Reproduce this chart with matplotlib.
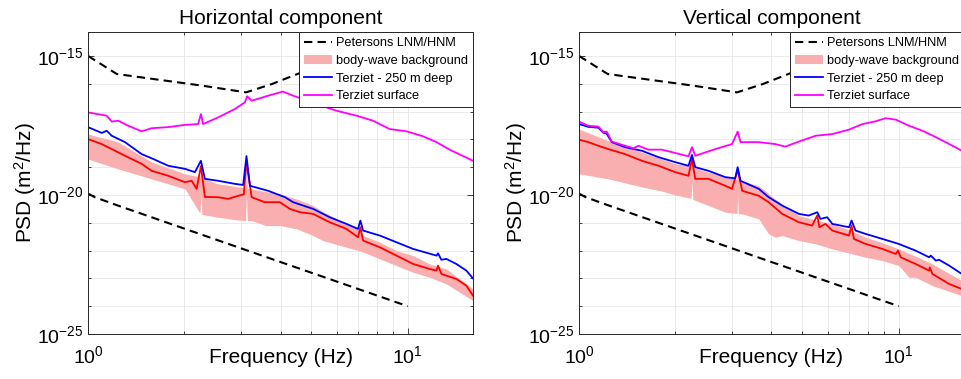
import numpy as np
import matplotlib
matplotlib.use('Agg')
import matplotlib.pyplot as plt
from matplotlib.ticker import FixedLocator, NullFormatter, LogLocator

plt.rcParams['font.family'] = 'Liberation Sans'
plt.rcParams['mathtext.fontset'] = 'custom'
plt.rcParams['mathtext.rm'] = 'Liberation Sans'
plt.rcParams['mathtext.it'] = 'Liberation Sans:italic'

# Peterson noise models (log10 of PSD, m^2/Hz), same in both panels
hnm_freq = [1.0, 1.23, 2.28, 3.12, 3.76, 4.38, 6.0, 10.0]
hnm_log = [-15.0, -15.65, -16.07, -16.31, -16.01, -15.71, -15.1, -14.3]
lnm_freq = [1.0, 1.05, 1.24, 10.0]
lnm_log = [-19.95, -20.08, -20.38, -24.0]

# Horizontal component
h_surf_freq = [1.0, 1.144, 1.186, 1.244, 1.336, 1.471, 1.581, 1.782, 2.01, 2.21, 2.255, 2.29,
               2.554, 2.879, 3.095, 3.145, 3.25, 3.66, 4.07, 4.38, 5.19, 5.99, 6.92, 7.79,
               8.78, 9.91, 11.16, 12.3, 13.52, 16.0]
h_surf_log = [-17.03, -17.15, -17.36, -17.33, -17.51, -17.71, -17.6, -17.56, -17.48, -17.45, -17.09, -17.45,
              -17.21, -16.91, -16.67, -16.45, -16.61, -16.43, -16.28, -16.43, -16.73, -16.97, -17.15, -17.33,
              -17.63, -17.71, -17.89, -18.1, -18.37, -18.77]

h_deep_freq = [1.0, 1.104, 1.144, 1.186, 1.305, 1.471, 1.581, 1.782, 2.01, 2.159, 2.255, 2.32,
               2.554, 2.879, 3.057, 3.13, 3.21, 3.66, 4.13, 4.38, 5.06, 5.7, 6.43, 6.99,
               7.11, 7.25, 8.18, 9.22, 10.39, 12.3, 12.44, 12.74, 13.21, 14.19, 15.25, 16.0]
h_deep_log = [-17.56, -17.77, -17.69, -17.87, -18.1, -18.53, -18.68, -18.95, -19.06, -19.18, -18.77, -19.42,
              -19.49, -19.6, -19.64, -18.6, -19.67, -19.85, -20.08, -20.26, -20.5, -20.8, -21.04, -21.22,
              -20.92, -21.28, -21.46, -21.7, -21.94, -22.18, -22.1, -22.33, -22.3, -22.48, -22.72, -23.0]

h_med_freq = [1.0, 1.104, 1.186, 1.305, 1.471, 1.581, 1.782, 2.01, 2.109, 2.186, 2.255, 2.32,
              2.554, 2.744, 2.95, 3.07, 3.13, 3.25, 3.57, 3.98, 4.28, 4.6, 5.06, 5.43,
              5.7, 6.43, 6.99, 7.11, 7.25, 8.18, 9.22, 9.91, 10.39, 11.71, 12.3, 12.44,
              12.74, 14.19, 15.25, 16.0]
h_med_log = [-17.99, -18.17, -18.35, -18.59, -18.88, -19.13, -19.31, -19.54, -19.49, -19.78, -18.96, -20.07,
             -20.08, -20.14, -20.03, -19.98, -18.81, -20.08, -20.26, -20.26, -20.5, -20.62, -20.68, -20.86,
             -20.98, -21.22, -21.52, -21.16, -21.64, -21.88, -22.18, -22.36, -22.48, -22.66, -22.72, -22.54,
             -22.84, -23.02, -23.26, -23.62]

h_band_freq = [1.0, 1.24, 1.58, 2.01, 2.24, 2.255, 2.27, 2.55, 2.95, 3.11, 3.13, 3.15, 3.25, 3.6,
               3.98, 4.5, 5.06, 5.43, 6.43, 7.0, 7.25, 8.18, 9.22, 10.39, 11.71, 13.21, 16.0]
h_band_hi = [-17.81, -18.09, -18.81, -19.24, -19.35, -19.0, -19.38, -19.6, -19.71, -19.74, -18.75, -19.75,
             -19.78, -19.88, -19.96, -20.15, -20.38, -20.6, -21.04, -21.2, -21.46, -21.7, -22.0, -22.18,
             -22.48, -22.66, -23.38]
h_band_lo = [-18.71, -19.06, -19.42, -19.78, -20.66, -19.9, -20.7, -20.8, -20.9, -20.92, -20.0, -20.92,
             -20.92, -21.1, -21.1, -21.22, -21.46, -21.64, -21.88, -22.0, -22.05, -22.3, -22.54, -22.78,
             -22.96, -23.2, -23.8]

# Vertical component
v_surf_freq = [1.0, 1.069, 1.149, 1.191, 1.221, 1.266, 1.393, 1.48, 1.534, 1.648, 1.816, 2.0,
               2.2, 2.256, 2.31, 2.67, 3.01, 3.135, 3.2, 3.65, 4.11, 4.42, 4.87, 5.5,
               6.2, 6.99, 7.7, 8.47, 9.1, 9.79, 10.77, 11.86, 13.06, 14.73, 15.75, 16.0]
v_surf_log = [-17.36, -17.51, -17.54, -17.74, -17.72, -18.08, -18.23, -18.32, -18.23, -18.37, -18.37, -18.49,
              -18.61, -18.28, -18.59, -18.35, -18.17, -17.72, -18.1, -18.1, -18.17, -18.26, -18.08, -17.87,
              -17.81, -17.65, -17.45, -17.35, -17.24, -17.29, -17.51, -17.69, -17.92, -18.23, -18.41, -18.45]

v_deep_freq = [1.0, 1.069, 1.149, 1.191, 1.221, 1.266, 1.393, 1.573, 1.773, 2.0, 2.2, 2.256,
               2.31, 2.54, 2.87, 3.08, 3.135, 3.2, 3.65, 3.92, 4.32, 4.87, 5.23, 5.56,
               5.69, 5.97, 6.2, 6.99, 7.12, 7.33, 7.88, 8.89, 10.0, 11.29, 12.45, 12.6,
               13.06, 13.37, 14.38, 15.75, 16.0]
v_deep_log = [-17.45, -17.55, -17.58, -17.76, -17.8, -18.1, -18.28, -18.41, -18.64, -18.82, -18.95, -18.56,
              -19.0, -19.13, -19.36, -19.4, -19.0, -19.49, -19.78, -20.08, -20.38, -20.68, -20.74, -20.62,
              -20.86, -20.8, -21.04, -21.16, -20.92, -21.28, -21.4, -21.58, -21.76, -22.0, -22.24, -22.18,
              -22.36, -22.33, -22.54, -22.84, -22.9]

v_med_freq = [1.0, 1.069, 1.149, 1.235, 1.393, 1.573, 1.773, 2.0, 2.2, 2.256, 2.31, 2.54,
              2.87, 3.01, 3.135, 3.24, 3.65, 3.92, 4.32, 4.87, 5.36, 5.56, 5.65, 5.9,
              6.2, 6.99, 7.12, 7.24, 7.88, 8.89, 9.79, 9.95, 10.14, 11.29, 12.45, 12.5,
              12.75, 14.38, 15.75, 16.0]
v_med_log = [-18.01, -18.1, -18.23, -18.35, -18.53, -18.77, -18.95, -19.18, -19.31, -18.71, -19.42, -19.42,
             -19.67, -19.78, -19.09, -19.85, -20.03, -20.26, -20.68, -20.98, -21.1, -20.74, -21.16, -21.04,
             -21.28, -21.46, -21.1, -21.58, -21.76, -21.94, -22.12, -22.0, -22.24, -22.48, -22.72, -22.6,
             -22.84, -23.2, -23.38, -23.42]

v_band_freq = [1.0, 1.235, 1.573, 1.815, 2.0, 2.24, 2.256, 2.27, 2.54, 2.87, 3.08, 3.12, 3.135, 3.15,
               3.24, 3.65, 3.92, 4.11, 4.32, 4.87, 5.5, 6.2, 7.16, 7.88, 8.89, 10.0, 10.77, 11.29,
               12.75, 15.75, 16.0]
v_band_hi = [-17.63, -18.05, -18.46, -18.7, -18.88, -18.97, -18.7, -19.0, -19.18, -19.33, -19.42, -19.43,
             -19.05, -19.45, -19.5, -19.67, -19.95, -20.15, -20.35, -20.74, -20.9, -21.04, -21.3, -21.52,
             -21.72, -21.94, -22.1, -22.2, -22.48, -23.08, -23.12]
v_band_lo = [-19.24, -19.42, -19.71, -19.86, -20.0, -20.12, -19.5, -20.16, -20.38, -20.62, -20.66, -20.67,
             -20.0, -20.68, -20.68, -20.86, -21.4, -21.52, -21.46, -21.64, -21.76, -21.94, -22.12, -22.24,
             -22.36, -22.54, -22.96, -22.96, -23.26, -23.62, -23.65]

panels = [
    ('Horizontal component', [0.0916, 0.1187, 0.4006, 0.7968],
     h_band_freq, h_band_lo, h_band_hi, h_med_freq, h_med_log,
     h_deep_freq, h_deep_log, h_surf_freq, h_surf_log),
    ('Vertical component', [0.6025, 0.1187, 0.4006, 0.7968],
     v_band_freq, v_band_lo, v_band_hi, v_med_freq, v_med_log,
     v_deep_freq, v_deep_log, v_surf_freq, v_surf_log),
]

fig = plt.figure(figsize=(9.61, 3.79), dpi=100)

for (title, pos, bf, blo, bhi, mf, ml, df, dl, sf, sl) in panels:
    ax = fig.add_axes(pos)
    band = ax.fill_between(bf, 10.0 ** np.array(blo), 10.0 ** np.array(bhi),
                           color='#f9afaf', lw=0, label='body-wave background')
    ax.plot(mf, 10.0 ** np.array(ml), color='red', lw=1.3)
    deep, = ax.plot(df, 10.0 ** np.array(dl), color='blue', lw=1.3)
    surf, = ax.plot(sf, 10.0 ** np.array(sl), color='magenta', lw=1.3)
    pet, = ax.plot(hnm_freq, 10.0 ** np.array(hnm_log), 'k--', lw=1.5, dashes=(4, 2.5))
    ax.plot(lnm_freq, 10.0 ** np.array(lnm_log), 'k--', lw=1.5, dashes=(4, 2.5))

    ax.set_xscale('log')
    ax.set_yscale('log')
    ax.set_xlim(1, 16)
    ax.set_ylim(1e-25, 10 ** -14.14)
    ax.xaxis.set_major_locator(FixedLocator([1, 10]))
    ax.xaxis.set_minor_locator(LogLocator(base=10, subs=np.arange(2, 10)))
    ax.xaxis.set_minor_formatter(NullFormatter())
    ax.yaxis.set_major_locator(FixedLocator([1e-25, 1e-20, 1e-15]))
    ax.yaxis.set_minor_locator(FixedLocator(10.0 ** np.arange(-25, -13)))
    ax.yaxis.set_minor_formatter(NullFormatter())

    ax.grid(True, which='both', color='#e6e6e6', lw=0.6)
    ax.set_axisbelow(True)
    ax.tick_params(which='both', direction='in', top=True, right=True,
                   color='0.15', width=0.6, labelsize=14)
    ax.tick_params(which='major', length=4)
    ax.tick_params(which='minor', length=2)
    ax.tick_params(axis='x', pad=8)
    for s in ax.spines.values():
        s.set_color('0.15')
        s.set_linewidth(0.7)

    ax.set_title(title, fontsize=15, pad=6)
    ax.set_xlabel('Frequency (Hz)', fontsize=15)
    ax.set_ylabel('PSD (m$^2$/Hz)', fontsize=15)
    ax.xaxis.set_label_coords(0.5, -0.045)
    ax.yaxis.set_label_coords(-0.13, 0.5)

    leg = ax.legend([pet, band, deep, surf],
                    ['Petersons LNM/HNM', 'body-wave background',
                     'Terziet - 250 m deep', 'Terziet surface'],
                    loc='upper right', bbox_to_anchor=(1, 1), borderaxespad=0,
                    fontsize=9.2, fancybox=False, framealpha=1, edgecolor='0.15',
                    handlelength=2.2, handletextpad=0.3, borderpad=0.4, labelspacing=0.45)
    leg.get_frame().set_linewidth(0.7)

fig.savefig('out.png', dpi=100)
